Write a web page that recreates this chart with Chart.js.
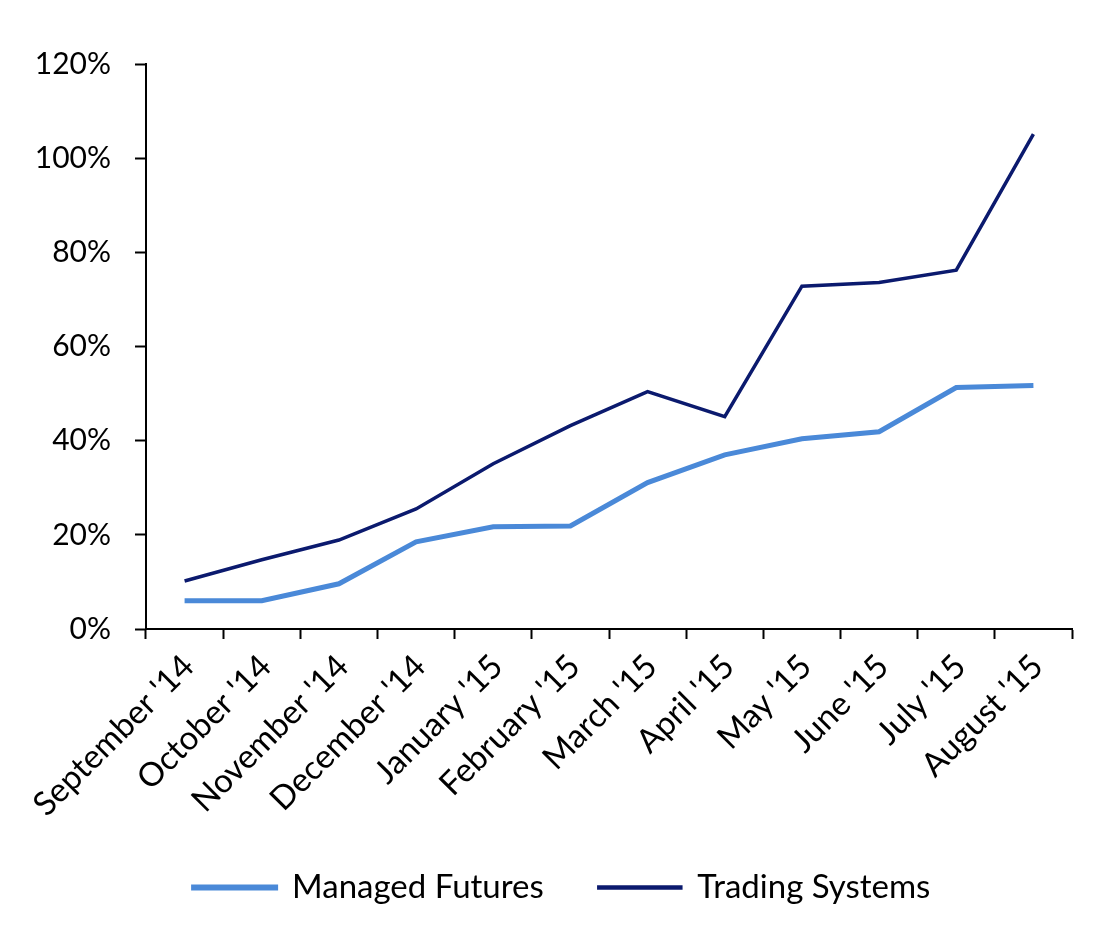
<!DOCTYPE html>
<html>
<head>
<meta charset="utf-8">
<script src="https://cdn.jsdelivr.net/npm/chart.js@4/dist/chart.umd.min.js"></script>
<style>
  html, body { margin: 0; padding: 0; background: #fff; }
  #wrap { width: 1103px; height: 926px; }
</style>
</head>
<body>
<div id="wrap"><canvas id="perfChart" width="1103" height="926"></canvas></div>
<script>
const months = ["September '14", "October '14", "November '14", "December '14", "January '15", "February '15",
  "March '15", "April '15", "May '15", "June '15", "July '15", "August '15"];
const managedFutures = [6.0, 6.0, 9.6, 18.5, 21.7, 21.9, 31.1, 37.0, 40.4, 41.9, 51.3, 51.7];
const tradingSystems = [10.2, 14.7, 18.9, 25.5, 35.1, 43.2, 50.4, 45.1, 72.8, 73.6, 76.2, 105.1];
const yTicks = [0, 20, 40, 60, 80, 100, 120];

const FONT = 'Lato, "Open Sans", sans-serif';

// legend sits a bit right of centre in the original
const legendShift = {
  id: 'legendShift',
  beforeDraw(chart) {
    if (chart.legend && !chart.legend._shifted) {
      chart.legend.left += 26;
      chart.legend.right += 26;
      chart.legend._shifted = true;
    }
  }
};

new Chart(document.getElementById('perfChart'), {
  type: 'line',
  data: {
    labels: months,
    datasets: [
      {
        label: 'Managed Futures',
        data: managedFutures,
        borderColor: '#4a89d8',
        backgroundColor: '#4a89d8',
        borderWidth: 5,
        pointRadius: 0,
        tension: 0
      },
      {
        label: 'Trading Systems',
        data: tradingSystems,
        borderColor: '#0b1a6e',
        backgroundColor: '#0b1a6e',
        borderWidth: 3.5,
        pointRadius: 0,
        tension: 0
      }
    ]
  },
  plugins: [legendShift],
  options: {
    responsive: false,
    animation: false,
    layout: { padding: { top: 64, right: 31, left: 0, bottom: 12 } },
    plugins: {
      tooltip: { enabled: false },
      legend: {
        position: 'bottom',
        labels: {
          color: '#000',
          font: { family: FONT, size: 33 },
          boxWidth: 82,
          boxHeight: 1,
          padding: 55
        }
      }
    },
    scales: {
      x: {
        offset: true,
        grid: { offset: true, drawOnChartArea: false, color: '#000', tickLength: 10, tickWidth: 2 },
        border: { color: '#000', width: 2 },
        ticks: {
          color: '#000',
          font: { family: FONT, size: 33 },
          minRotation: 45,
          maxRotation: 45,
          autoSkip: false,
          padding: 8,
          labelOffset: 4
        },
        afterFit(scale) { scale.height = 187; }
      },
      y: {
        min: 0,
        max: 120,
        afterBuildTicks(scale) { scale.ticks = yTicks.map(v => ({ value: v })); },
        grid: { drawOnChartArea: false, color: '#000', tickLength: 11, tickWidth: 2 },
        border: { color: '#000', width: 2 },
        ticks: {
          color: '#000',
          font: { family: FONT, size: 30 },
          padding: 24,
          callback: v => v + '%'
        },
        afterFit(scale) { scale.width = 146; }
      }
    }
  }
});
</script>
</body>
</html>
